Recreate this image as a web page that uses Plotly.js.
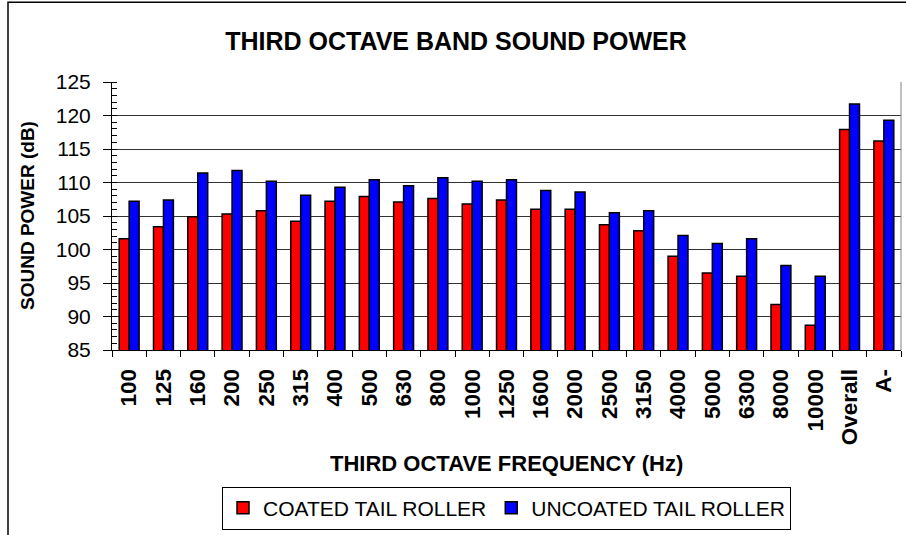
<!DOCTYPE html>
<html>
<head>
<meta charset="utf-8">
<script src="https://cdn.plot.ly/plotly-3.0.1.min.js"></script>
<style>
  html, body { margin: 0; padding: 0; background: #ffffff; }
  #chart { width: 906px; height: 535px; }
</style>
</head>
<body>
<div id="chart"></div>
<script>
// Third octave band centre frequencies (category labels)
const categories = ["100","125","160","200","250","315","400","500","630","800","1000","1250","1600","2000","2500","3150","4000","5000","6300","8000","10000","Overall","A-"];

// Sound power levels (dB)
const coatedValues = [101.6,103.4,104.9,105.3,105.8,104.2,107.2,107.9,107.1,107.6,106.8,107.4,106.0,106.0,103.7,102.8,99.0,96.5,96.0,91.8,88.7,117.9,116.2];
const uncoatedValues = [107.2,107.4,111.4,111.8,110.2,108.1,109.3,110.4,109.5,110.7,110.2,110.4,108.8,108.6,105.5,105.8,102.1,100.9,101.6,97.6,96.0,121.7,119.3];

const seriesNames = ["COATED TAIL ROLLER", "UNCOATED TAIL ROLLER"];
const chartTitle = "THIRD OCTAVE BAND SOUND POWER";
const xTitle = "THIRD OCTAVE FREQUENCY (Hz)";
const yTitle = "SOUND POWER (dB)";

const FONT = "Arial, 'Liberation Sans', sans-serif";

const traces = [
  {
    type: "bar",
    name: seriesNames[0],
    x: categories,
    y: coatedValues,
    marker: { color: "#FF0000", line: { color: "#000000", width: 1.5 } },
    hoverinfo: "x+y+name"
  },
  {
    type: "bar",
    name: seriesNames[1],
    x: categories,
    y: uncoatedValues,
    marker: { color: "#0000FF", line: { color: "#000000", width: 1.5 } },
    hoverinfo: "x+y+name"
  }
];

const layout = {
  width: 906,
  height: 535,
  margin: { l: 112, r: 5, t: 82, b: 183, pad: 0 },
  paper_bgcolor: "#ffffff",
  plot_bgcolor: "#ffffff",
  font: { family: FONT, color: "#000000", size: 21 },
  barmode: "group",
  bargap: 0.42,
  bargroupgap: 0,
  showlegend: true,
  title: {
    text: "<b>" + chartTitle + "</b>",
    font: { family: FONT, size: 25, color: "#000000" },
    x: 456 / 906, xref: "container", xanchor: "center",
    y: 42, yref: "container", yanchor: "middle"
  },
  xaxis: {
    type: "category",
    tickangle: -90,
    tickfont: { family: FONT, size: 22.5, color: "#000000", weight: "bold" },
    ticks: "outside",
    ticklen: 6,
    tickcolor: "#000000",
    tickson: "boundaries",
    showline: true,
    linecolor: "#000000",
    linewidth: 1,
    showgrid: false,
    zeroline: false,
    ticklabelstandoff: 9,
    fixedrange: true
  },
  yaxis: {
    range: [85, 125],
    dtick: 5,
    tick0: 85,
    ticks: "outside",
    ticklen: 8,
    tickcolor: "#000000",
    tickfont: { family: FONT, size: 21, color: "#000000" },
    showline: true,
    linecolor: "#000000",
    linewidth: 1,
    showgrid: true,
    gridcolor: "#333333",
    gridwidth: 1,
    zeroline: false,
    ticklabelstandoff: 8,
    minor: { dtick: 1, ticks: "inside", ticklen: 5, tickcolor: "#000000", showgrid: false },
    fixedrange: true
  },
  legend: {
    orientation: "h",
    x: 0.5, xanchor: "center",
    y: -(490 - 352.3) / 270, yanchor: "top",
    bordercolor: "#000000",
    borderwidth: 1,
    bgcolor: "#ffffff",
    font: { family: FONT, size: 21, color: "#000000" },
    itemclick: false,
    itemdoubleclick: false
  },
  annotations: [
    {
      text: "<b>" + xTitle + "</b>",
      xref: "paper", yref: "paper",
      x: 0.5, y: -(467 - 352.3) / 270,
      xanchor: "center", yanchor: "middle",
      showarrow: false,
      font: { family: FONT, size: 22, color: "#000000" }
    },
    {
      text: "<b>" + yTitle + "</b>",
      xref: "paper", yref: "paper",
      x: (27 - 112) / 789, y: 0.5,
      xanchor: "center", yanchor: "middle",
      textangle: -90,
      showarrow: false,
      font: { family: FONT, size: 19, color: "#000000" }
    }
  ],
  shapes: [
    // outer chart frame (right and bottom edges fall outside the image)
    {
      type: "rect", xref: "paper", yref: "paper",
      x0: (8 - 112) / 789, x1: (915 - 112) / 789,
      y0: (352.3 - 545) / 270, y1: (352.3 - 2) / 270,
      line: { color: "#000000", width: 1.5 }, fillcolor: "rgba(0,0,0,0)",
      layer: "below"
    },
    // plot area right edge
    {
      type: "line", xref: "paper", yref: "paper",
      x0: 1, x1: 1, y0: 0, y1: 1,
      line: { color: "#808080", width: 1 }
    }
  ]
};

Plotly.newPlot("chart", traces, layout, { displayModeBar: false });
</script>
</body>
</html>
